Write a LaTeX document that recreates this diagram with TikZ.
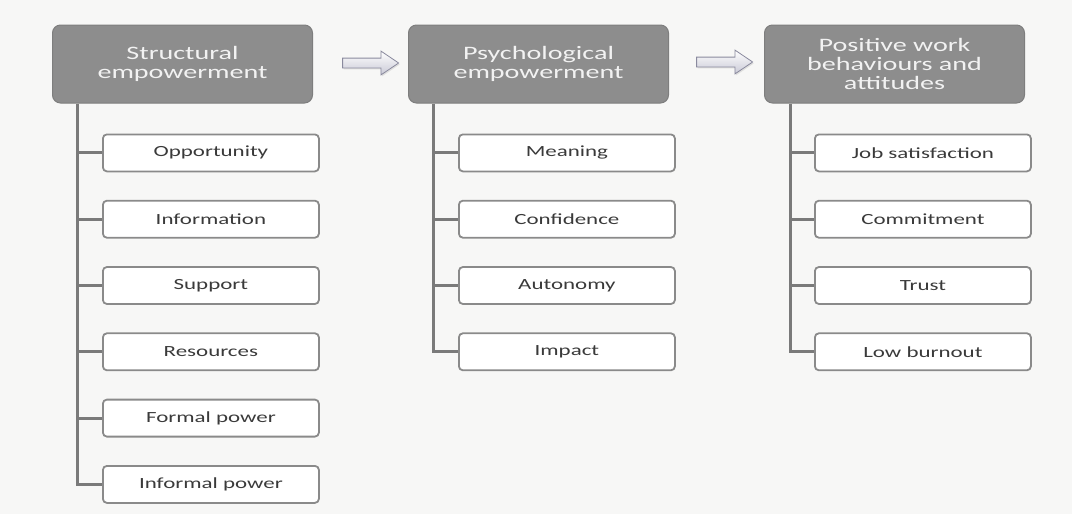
\documentclass[tikz,border=0pt]{standalone}
\usepackage{fontspec}
\setmainfont{Carlito}[FakeStretch=1.48]
\usepackage{tikz}
\usetikzlibrary{shapes,arrows,positioning,calc,shadows}

\definecolor{paper}{HTML}{F7F7F6}
\definecolor{headfill}{HTML}{8D8D8D}
\definecolor{headline}{HTML}{7E7E7E}
\definecolor{headtext}{HTML}{F2F2F2}
\definecolor{itemline}{HTML}{8A8A8A}
\definecolor{itemtext}{HTML}{3A3A3A}
\definecolor{trunkgray}{HTML}{7A7A7A}
\definecolor{arrowline}{HTML}{8A8A9E}
\definecolor{arrowshade}{HTML}{C9C9D6}

\begin{document}
\begin{tikzpicture}[
    node distance=27.5pt and 95pt,
    header/.style={rectangle, draw=headline, line width=1pt, fill=headfill, text=headtext, text width=250pt, align=center, minimum width=260pt, minimum height=78pt, rounded corners=8pt, font=\fontsize{19}{19}\selectfont},
    item/.style={rectangle, draw=itemline, line width=1.8pt, fill=white, minimum width=216pt, minimum height=37pt, rounded corners=4pt, text=itemtext, font=\fontsize{15.5}{19}\selectfont},
    trunk/.style={draw=trunkgray, line width=3pt},
    flow/.style={single arrow, draw=arrowline, line width=0.8pt, top color=white, bottom color=arrowshade, inner sep=0pt, inner ysep=4.5pt, minimum height=56pt, minimum width=23pt, single arrow head extend=7pt, single arrow tip angle=68, drop shadow={opacity=0.2, shadow xshift=1pt, shadow yshift=-1.5pt}}
]
    \fill [paper] (0,0) rectangle (1072pt,-514pt);
    \useasboundingbox (0,0) rectangle (1072pt,-514pt);

    \node [header] (struct) at (182.5pt,-64pt) {Structural\\empowerment};
    \node [header, right=of struct] (psych) {Psychological\\empowerment};
    \node [header, right=of psych] (posit) {Positive work\\behaviours and\\attitudes};

    \node [flow] (arr1) at ($(psych.west)+(-41pt,1pt)$) {};
    \node [flow] (arr2) at ($(posit.west)+(-43pt,2pt)$) {};

    \node [item, below right=30pt and 50pt of struct.south west] (opp) {Opportunity};
    \node [item, below=of opp] (info) {Information};
    \node [item, below=of info] (supp) {Support};
    \node [item, below=of supp] (res) {Resources};
    \node [item, below=of res] (form) {Formal power};
    \node [item, below=of form] (inf) {Informal power};

    \node [item, below right=30pt and 50pt of psych.south west] (mean) {Meaning};
    \node [item, below=of mean] (conf) {Confidence};
    \node [item, below=of conf] (auto) {Autonomy};
    \node [item, below=of auto] (imp) {Impact};

    \node [item, below right=30pt and 50pt of posit.south west] (job) {Job satisfaction};
    \node [item, below=of job] (comm) {Commitment};
    \node [item, below=of comm] (trust) {Trust};
    \node [item, below=of trust] (burn) {Low burnout};

    \coordinate (st) at ($(struct.south west)+(25pt,0)$);
    \coordinate (pt) at ($(psych.south west)+(25pt,0)$);
    \coordinate (qt) at ($(posit.south west)+(26pt,0)$);

    \draw [trunk] (st) |- (inf.west);
    \foreach \k in {opp,info,supp,res,form}
        \draw [trunk] (st |- \k.west) -- (\k.west);
    \draw [trunk] (pt) |- (imp.west);
    \foreach \k in {mean,conf,auto}
        \draw [trunk] (pt |- \k.west) -- (\k.west);
    \draw [trunk] (qt) |- (burn.west);
    \foreach \k in {job,comm,trust}
        \draw [trunk] (qt |- \k.west) -- (\k.west);
\end{tikzpicture}
\end{document}
